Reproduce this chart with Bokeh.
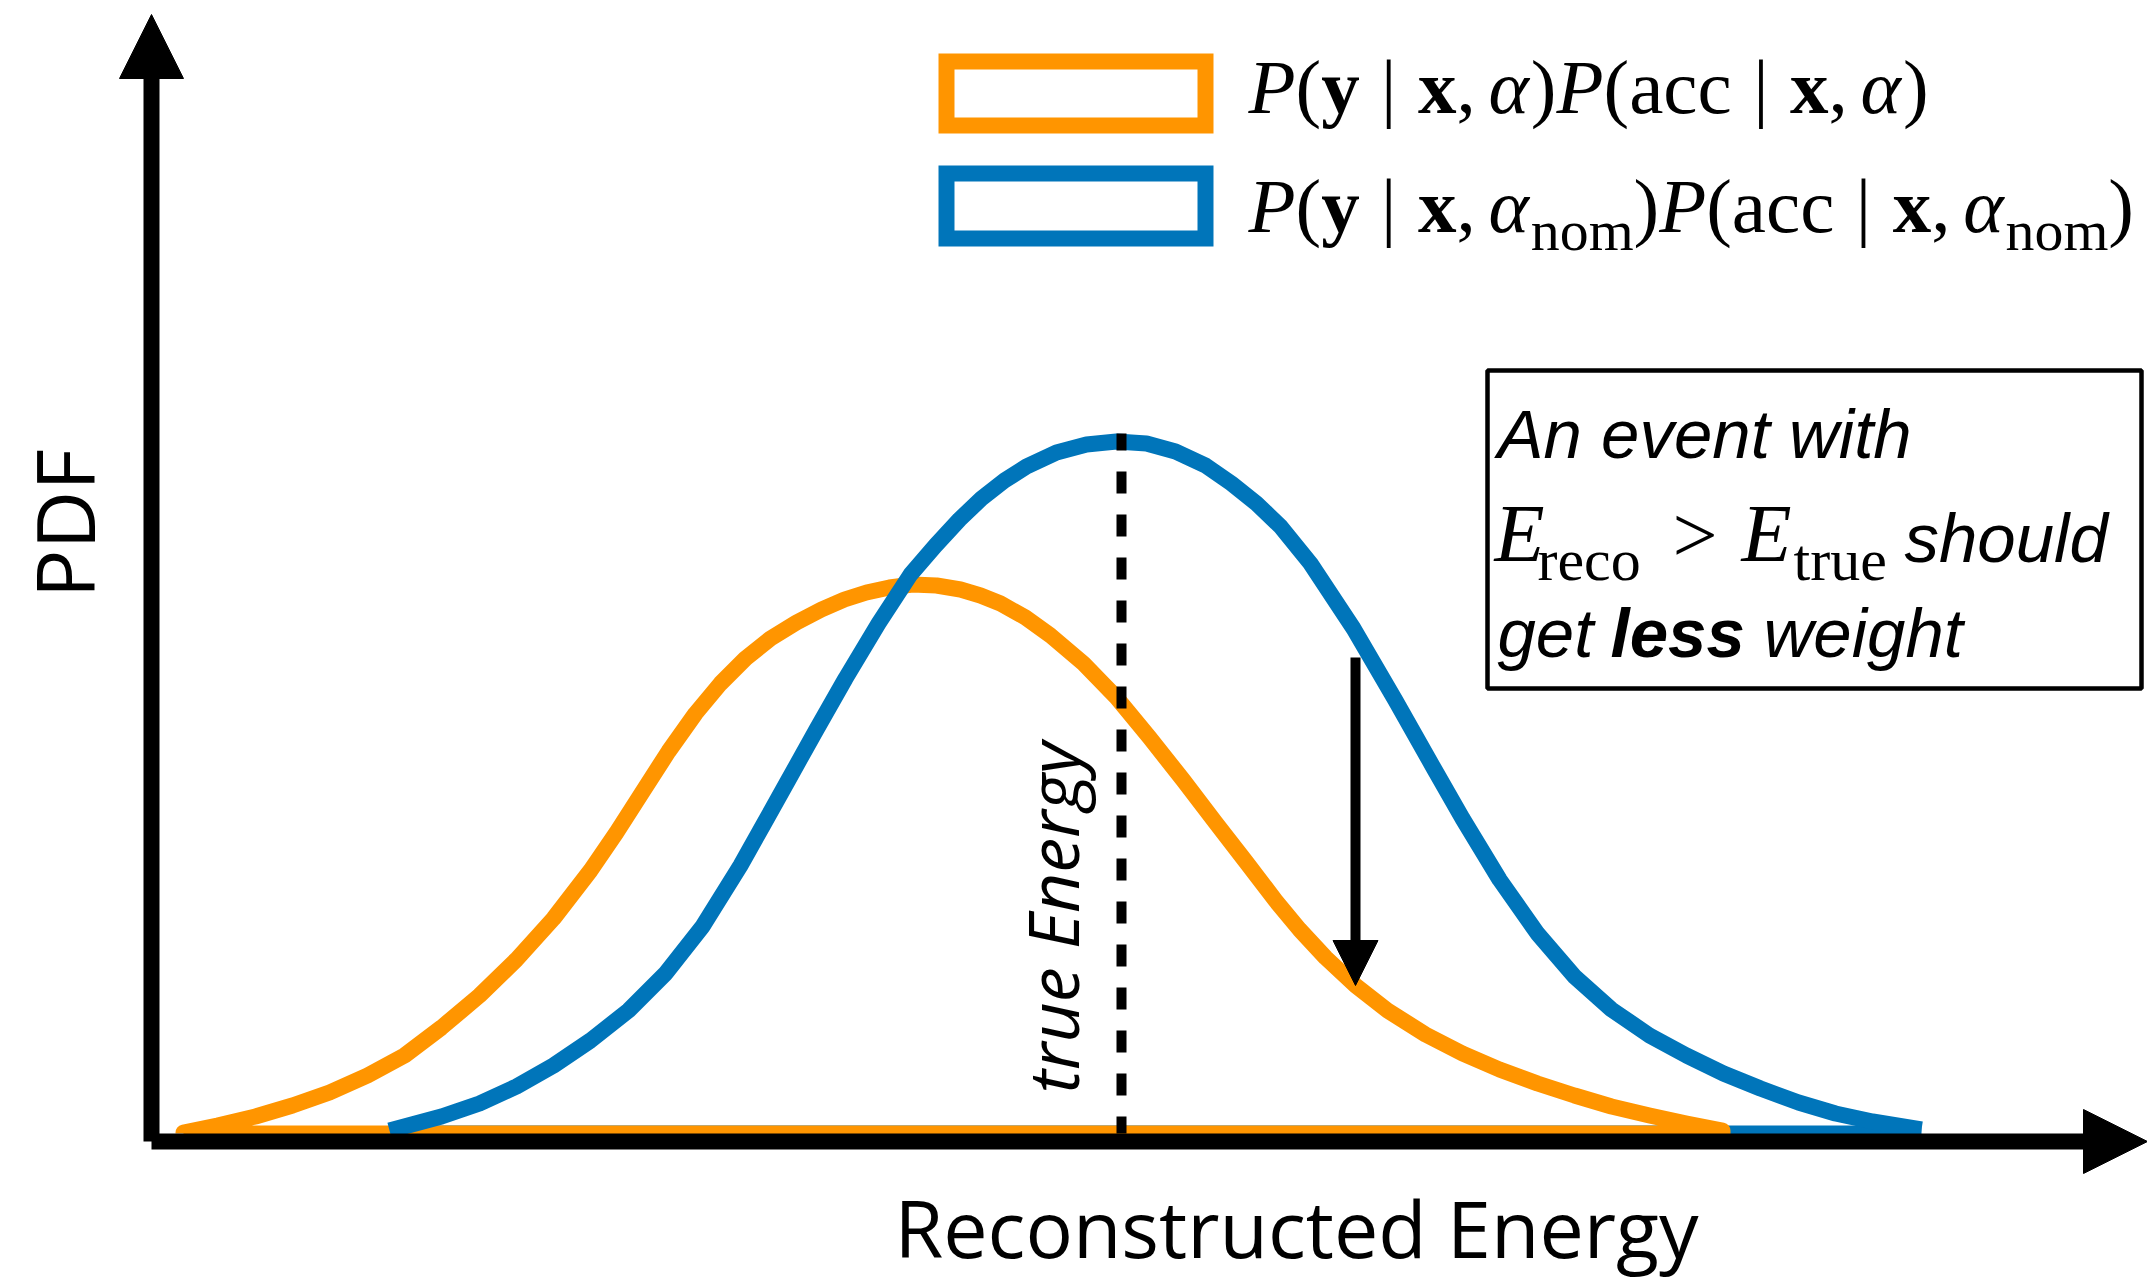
from math import pi

from bokeh.core.properties import value
from bokeh.embed import file_html
from bokeh.models import Arrow, NormalHead, Range1d
from bokeh.plotting import figure
from bokeh.resources import INLINE

# ---------------------------------------------------------------------------
# Data: reconstructed energy (arb. units) and PDF (arb. units)
# ---------------------------------------------------------------------------
# nominal response  P(y|x,a_nom) P(acc|x,a_nom)
energy_nominal = [2.38, 2.90, 3.28, 3.65, 4.02, 4.39, 4.77, 5.14, 5.51, 5.89,
                  6.12, 6.36, 6.65, 6.94, 7.27, 7.59, 7.84, 8.08, 8.30, 8.53,
                  8.75, 9.05, 9.35, 9.65, 9.95, 10.24, 10.54, 10.80, 11.05, 11.29,
                  11.59, 12.02, 12.44, 12.83, 13.11, 13.48, 13.86, 14.23, 14.60,
                  14.98, 15.35, 15.72, 16.09, 16.47, 16.84, 17.21, 17.70]
pdf_nominal = [0.03, 0.17, 0.30, 0.47, 0.68, 0.93, 1.23, 1.60, 2.07, 2.68,
               3.09, 3.52, 4.04, 4.55, 5.10, 5.59, 5.88, 6.14, 6.35, 6.53,
               6.67, 6.81, 6.89, 6.92, 6.90, 6.82, 6.68, 6.50, 6.30, 6.07,
               5.70, 5.05, 4.33, 3.64, 3.15, 2.54, 2.00, 1.57, 1.24,
               0.98, 0.78, 0.60, 0.45, 0.31, 0.20, 0.12, 0.04]

# shifted response  P(y|x,a) P(acc|x,a)
energy_shifted = [0.32, 0.66, 1.04, 1.41, 1.78, 2.16, 2.53, 2.90, 3.28, 3.65,
                  4.02, 4.39, 4.65, 4.90, 5.17, 5.44, 5.69, 5.94, 6.19, 6.45,
                  6.70, 6.93, 7.15, 7.38, 7.61, 7.85, 8.09, 8.29, 8.49, 8.74,
                  8.99, 9.32, 9.65, 9.98, 10.32, 10.64, 10.95, 11.24, 11.48, 11.74,
                  12.04, 12.36, 12.74, 13.11, 13.48, 13.86, 14.23, 14.60, 14.98,
                  15.35, 15.71]
pdf_shifted = [0.01, 0.08, 0.17, 0.28, 0.41, 0.58, 0.78, 1.06, 1.38, 1.74,
               2.15, 2.63, 3.01, 3.40, 3.82, 4.20, 4.50, 4.75, 4.95, 5.11,
               5.24, 5.34, 5.41, 5.46, 5.49, 5.48, 5.44, 5.38, 5.30, 5.16,
               4.98, 4.70, 4.36, 3.96, 3.53, 3.11, 2.71, 2.33, 2.04, 1.76,
               1.48, 1.23, 0.99, 0.80, 0.64, 0.50, 0.38, 0.27, 0.18,
               0.10, 0.03]

true_energy = 9.70          # position of the true energy marker
marker_top = 7.00           # top of the true-energy marker
weight_index = 40           # sample of the shifted curve the arrow points to
arrow_start = 4.76          # start of the "less weight" arrow

ORANGE = "#ff9500"
BLUE = "#0075ba"
SERIF = "Liberation Serif"
SANS = "Liberation Sans"
LABEL_FONT = "Open Sans"

p = figure(width=2147, height=1286,
           x_range=Range1d(-1.51, 19.96), y_range=Range1d(-1.53, 11.33),
           output_backend="svg", toolbar_location=None,
           x_axis_location=None, y_axis_location=None,
           min_border=0, outline_line_color=None,
           background_fill_color="white", border_fill_color="white")
p.grid.visible = False

# ---------------------------------------------------------------------------
# Curves
# ---------------------------------------------------------------------------
# baseline under the nominal curve
p.line([energy_nominal[0], energy_nominal[-1]], [0, 0],
       line_color=BLUE, line_width=16)

# shifted curve, closed along its baseline
sx = [energy_shifted[0]] + energy_shifted + [energy_shifted[-1], energy_shifted[0]]
sy = [0] + pdf_shifted + [0, 0]
p.line(sx, sy, line_color=ORANGE, line_width=16, line_join="round")

# nominal curve on top
p.line(energy_nominal, pdf_nominal, line_color=BLUE, line_width=16,
       line_join="round")

# true energy marker
p.line([true_energy, true_energy], [marker_top, 0], line_color="black",
       line_width=10, line_dash="22 21", line_dash_offset=5)

# arrow from the nominal curve down to the shifted one
p.add_layout(Arrow(end=NormalHead(size=45, fill_color="black",
                                  line_color="black", line_width=1),
                   x_start=energy_shifted[weight_index], y_start=arrow_start,
                   x_end=energy_shifted[weight_index],
                   y_end=pdf_shifted[weight_index],
                   line_color="black", line_width=10))

# ---------------------------------------------------------------------------
# Axes drawn as arrows
# ---------------------------------------------------------------------------
axis_y0 = -0.08
for xe, ye in [(0, 11.19), (19.96, axis_y0)]:
    p.add_layout(Arrow(end=NormalHead(size=64, fill_color="black",
                                      line_color="black", line_width=1),
                       x_start=0, y_start=axis_y0, x_end=xe, y_end=ye,
                       line_color="black", line_width=16))

# the svg text box sits lower than the requested alphabetic baseline;
# lift it by this fraction of the font size
LIFT = 0.35


def put(x, y, s, font, size, style="normal", angle=0.0, align="left"):
    shift = LIFT * size / 100
    if angle:
        x -= shift
    else:
        y += shift
    p.text(x=[x], y=[y], text=[s], text_font=value(font),
           text_font_size=f"{size}px", text_font_style=style,
           angle=angle, text_align=align, text_baseline="alphabetic",
           text_color="black")


put(11.45, -1.22, "Reconstructed Energy", LABEL_FONT, 79, align="center")
put(-0.60, 6.10, "PDF", LABEL_FONT, 81, angle=pi / 2, align="center")
put(9.25, 2.16, "true Energy", LABEL_FONT, 70, style="italic",
    angle=pi / 2, align="center")

# ---------------------------------------------------------------------------
# Legend with typeset formulas
# ---------------------------------------------------------------------------
ADVANCE = {"P": 0.611, "E": 0.611, "(": 0.333, ")": 0.333, "y": 0.5,
           "x": 0.5, "|": 0.2, ",": 0.25, "α": 0.55, "a": 0.444, "c": 0.444,
           "e": 0.444, "n": 0.5, "o": 0.5, "m": 0.778, "r": 0.333,
           "t": 0.278, "u": 0.5, ">": 0.564}
THICK, THIN = 0.278, 0.167


def formula(x0, y0, size, pieces):
    """Lay out a run of math pieces: (text, style, scale, drop) or a gap in em."""
    x = x0
    for piece in pieces:
        if isinstance(piece, float):
            x += piece * size / 100
            continue
        s, style, scale, drop = piece
        fs = size * scale
        put(x, y0 - drop * size / 100, s, SERIF, round(fs, 1), style=style)
        x += sum(ADVANCE[c] for c in s) * fs / 100


def likelihood(sub):
    alpha = [("α", "italic", 1, 0)]
    if sub:
        alpha.append(("nom", "normal", 0.75, 0.234))
    given = [THICK, ("|", "normal", 1, 0), THICK, ("x", "bold", 1, 0),
             (",", "normal", 1, 0), THIN] + alpha + [(")", "normal", 1, 0)]
    return ([("P", "italic", 1, 0), ("(", "normal", 1, 0), ("y", "bold", 1, 0)]
            + given
            + [("P", "italic", 1, 0), ("(", "normal", 1, 0),
               ("acc", "normal", 1, 0)]
            + given)


p.rect([9.245], [10.40], width=2.59, height=0.64, fill_color=None,
       line_color=ORANGE, line_width=16, line_join="miter")
p.rect([9.245], [9.275], width=2.59, height=0.65, fill_color=None,
       line_color=BLUE, line_width=16, line_join="miter")
formula(10.97, 10.20, 77, likelihood(False))
formula(10.97, 9.01, 77, likelihood(True))

# ---------------------------------------------------------------------------
# Annotation box
# ---------------------------------------------------------------------------
p.quad(left=[13.36], right=[19.90], top=[7.63], bottom=[4.45],
       fill_color="white", line_color="black", line_width=4.5)
put(13.46, 6.75, "An event with", SANS, 69, style="italic")
put(13.43, 5.71, "E", SERIF, 82, style="italic")
put(13.86, 5.53, "reco", SERIF, 60)
put(15.435, 5.71, ">", SERIF, 80, align="center")
put(15.90, 5.71, "E", SERIF, 82, style="italic")
put(16.42, 5.53, "true", SERIF, 60)
put(17.53, 5.71, "should", SANS, 69, style="italic")
put(13.46, 4.76, "get", SANS, 69, style="italic")
put(14.59, 4.76, "less", SANS, 69, style="bold italic")
put(16.12, 4.76, "weight", SANS, 69, style="italic")

open("out.html", "w").write(file_html(p, INLINE))
